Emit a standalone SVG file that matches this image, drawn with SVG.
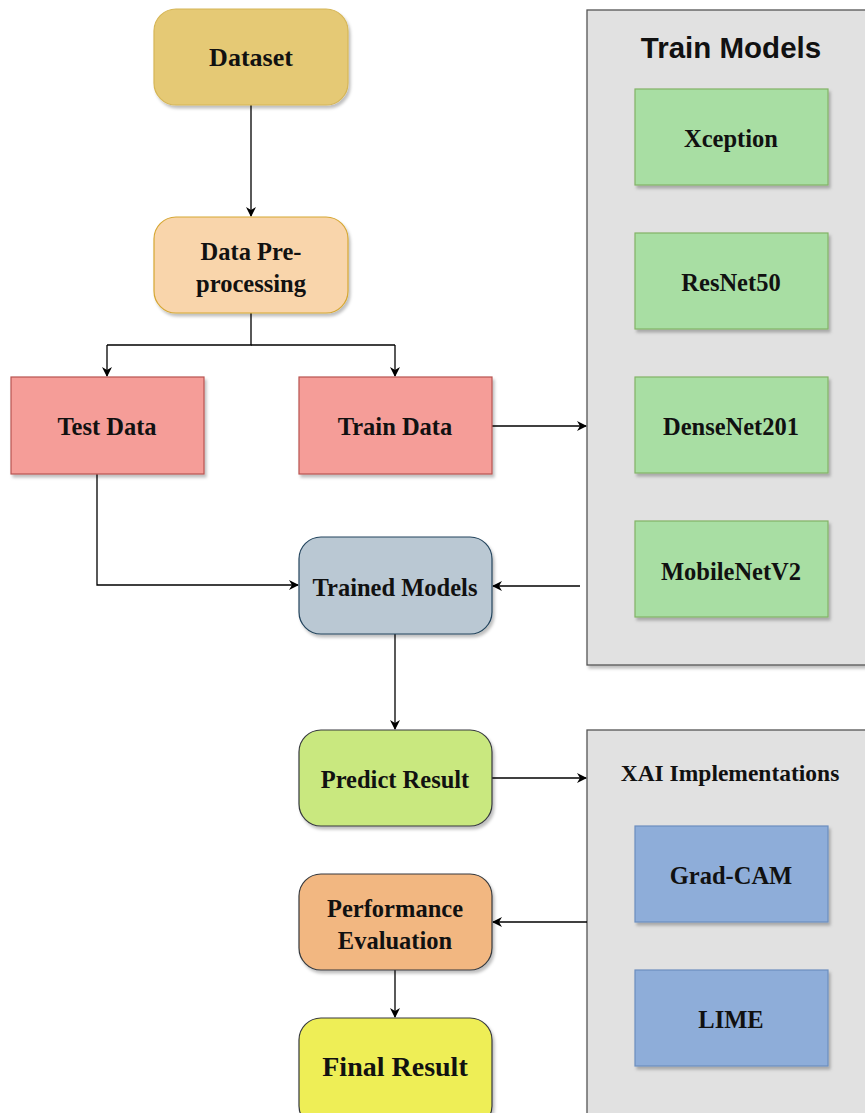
<svg xmlns="http://www.w3.org/2000/svg" width="865" height="1113" viewBox="0 0 865 1113">
<defs>
<filter id="sh" x="-10%" y="-10%" width="130%" height="130%">
<feDropShadow dx="2" dy="3" stdDeviation="1.5" flood-color="#000" flood-opacity="0.25"/>
</filter>
<marker id="ah" markerWidth="10" markerHeight="10" refX="9" refY="5" orient="auto" markerUnits="userSpaceOnUse">
<path d="M0,0 L10,5 L0,10 L3,5 Z" fill="#000"/>
</marker>
</defs>
<style>
.t{font-family:"Liberation Serif","Times New Roman",serif;font-weight:bold;font-size:24.5px;fill:#111;text-anchor:middle;dominant-baseline:central}
.c{fill:none;stroke:#000;stroke-width:1.3}
.a{marker-end:url(#ah)}
.box{stroke-width:1.2;filter:url(#sh)}
</style>
<rect width="865" height="1113" fill="#fff"/>
<g id="train-models">
<rect x="587" y="10" width="290" height="655" fill="#e1e1e1" stroke="#555" stroke-width="1.3" filter="url(#sh)"/>
<text x="731" y="47" style="font-family:'Liberation Sans',Arial,sans-serif;font-weight:bold;font-size:29.5px;fill:#111;text-anchor:middle;dominant-baseline:central">Train Models</text>
</g>
<g id="xai">
<rect x="587" y="730" width="290" height="400" fill="#e1e1e1" stroke="#555" stroke-width="1.3" filter="url(#sh)"/>
<text x="730" y="773" class="t" style="font-size:23.5px">XAI Implementations</text>
</g>
<g id="connectors">
<path class="c a" d="M251,105 V216"/>
<path class="c" d="M251,313 V345 H107"/>
<path class="c a" d="M107,345 V376"/>
<path class="c" d="M251,345 H395"/>
<path class="c a" d="M395,345 V376"/>
<path class="c a" d="M492,426 H586"/>
<path class="c a" d="M97,474 V585 H298"/>
<path class="c a" d="M580,586 H493"/>
<path class="c a" d="M395,634 V729"/>
<path class="c a" d="M492,778 H586"/>
<path class="c a" d="M587,922 H493"/>
<path class="c a" d="M395,970 V1017"/>
</g>
<g id="dataset">
<rect class="box" x="154" y="9" width="194" height="96" rx="22" fill="#e5c975" stroke="#d6b656"/>
<text class="t" x="251" y="57" style="font-size:26px">Dataset</text>
</g>
<g id="preprocessing">
<rect class="box" x="154" y="217" width="194" height="96" rx="22" fill="#f9d5ab" stroke="#d6a733"/>
<text class="t" x="251" y="251">Data Pre-</text>
<text class="t" x="251" y="283">processing</text>
</g>
<g id="test-data">
<rect class="box" x="11" y="377" width="193" height="97" fill="#f59d98" stroke="#b85450"/>
<text class="t" x="107" y="426">Test Data</text>
</g>
<g id="train-data">
<rect class="box" x="299" y="377" width="193" height="97" fill="#f59d98" stroke="#b85450"/>
<text class="t" x="395" y="426">Train Data</text>
</g>
<g id="trained-models">
<rect class="box" x="299" y="537" width="193" height="97" rx="22" fill="#bac8d3" stroke="#23445d"/>
<text class="t" x="395" y="587">Trained Models</text>
</g>
<g id="predict-result">
<rect class="box" x="299" y="730" width="193" height="96" rx="22" fill="#c9e87f" stroke="#36393d"/>
<text class="t" x="395" y="779">Predict Result</text>
</g>
<g id="performance">
<rect class="box" x="299" y="874" width="193" height="96" rx="22" fill="#f2b781" stroke="#36393d"/>
<text class="t" x="395" y="908">Performance</text>
<text class="t" x="395" y="940">Evaluation</text>
</g>
<g id="final-result">
<rect class="box" x="299" y="1018" width="193" height="110" rx="22" fill="#eeee56" stroke="#36393d"/>
<text class="t" x="395" y="1066" style="font-size:28px">Final Result</text>
</g>
<g id="xception">
<rect class="box" x="635" y="89" width="193" height="96" fill="#a8dea3" stroke="#82b366"/>
<text class="t" x="731" y="138">Xception</text>
</g>
<g id="resnet50">
<rect class="box" x="635" y="233" width="193" height="96" fill="#a8dea3" stroke="#82b366"/>
<text class="t" x="731" y="282">ResNet50</text>
</g>
<g id="densenet201">
<rect class="box" x="635" y="377" width="193" height="96" fill="#a8dea3" stroke="#82b366"/>
<text class="t" x="731" y="426">DenseNet201</text>
</g>
<g id="mobilenetv2">
<rect class="box" x="635" y="521" width="193" height="96" fill="#a8dea3" stroke="#82b366"/>
<text class="t" x="731" y="571">MobileNetV2</text>
</g>
<g id="gradcam">
<rect class="box" x="635" y="826" width="193" height="96" fill="#8eadd9" stroke="#6c8ebf"/>
<text class="t" x="731" y="875">Grad-CAM</text>
</g>
<g id="lime">
<rect class="box" x="635" y="970" width="193" height="96" fill="#8eadd9" stroke="#6c8ebf"/>
<text class="t" x="731" y="1019">LIME</text>
</g>
</svg>
